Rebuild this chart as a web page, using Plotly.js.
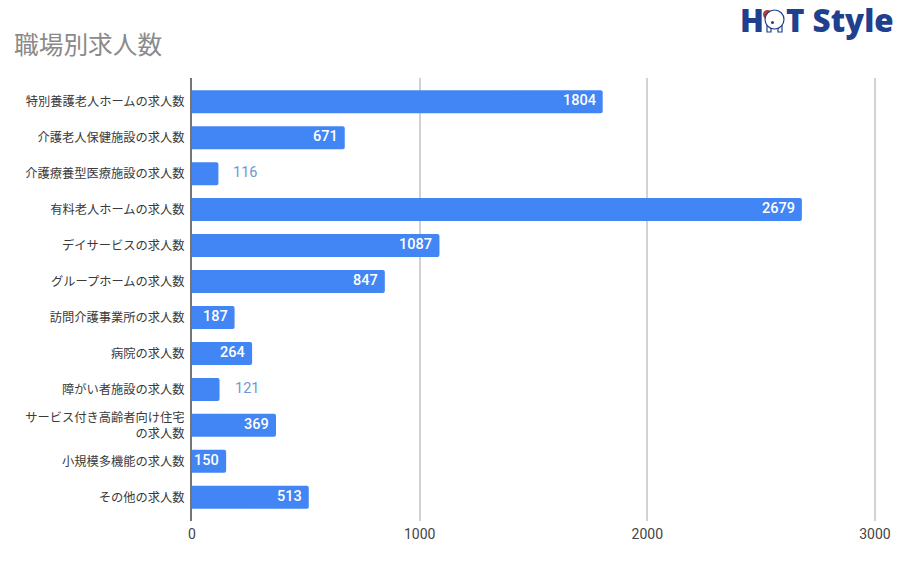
<!DOCTYPE html>
<html><head><meta charset="utf-8">
<script src="https://cdn.plot.ly/plotly-3.0.1.min.js"></script>
<style>html,body{margin:0;padding:0;background:#fff}#c{width:900px;height:570px}</style>
</head><body><div id="c"></div>
<script>
const categories = ["特別養護老人ホームの求人数","介護老人保健施設の求人数","介護療養型医療施設の求人数","有料老人ホームの求人数","デイサービスの求人数","グループホームの求人数","訪問介護事業所の求人数","病院の求人数","障がい者施設の求人数","サービス付き高齢者向け住宅<br>の求人数","小規模多機能の求人数","その他の求人数"];
const values = [1804,671,116,2679,1087,847,187,264,121,369,150,513];
const xTicks = [0,1000,2000,3000];
const title = "職場別求人数";
const cjk = '"Noto Sans CJK JP","Noto Sans",sans-serif';
const num = 'Roboto,Arial,sans-serif';
const labels = values.map((v,i)=>{
  const outside = v < 130;
  return {x:v,y:i,xref:'x',yref:'y',text:String(v),showarrow:false,
    xanchor:outside?'left':'right',yanchor:'middle',
    xshift:outside?13:-5,yshift:1,
    font:{family:num,size:14.5,weight:outside?400:500,color:outside?'#6f96d1':'#ffffff'}};
});
const pxX = x=>(x-192)/685, pxY = y=>(521-y)/443;
const navy = '#1f3f8f';
const logoFont = {family:'"Open Sans","Noto Sans",sans-serif',size:31.3,weight:800,color:navy};
const logo = [
  {xref:'paper',yref:'paper',x:pxX(738),y:pxY(20),text:'H',showarrow:false,xanchor:'left',yanchor:'middle',font:logoFont},
  {xref:'paper',yref:'paper',x:pxX(784),y:pxY(20),text:'T Style',showarrow:false,xanchor:'left',yanchor:'middle',font:logoFont}
];
const shapes = [
  {type:'circle',xref:'paper',yref:'paper',x0:pxX(763),x1:pxX(772),y0:pxY(19),y1:pxY(10),fillcolor:'#c0392b',line:{width:0},layer:'above'},
  {type:'rect',xref:'paper',yref:'paper',x0:pxX(767),x1:pxX(771),y0:pxY(32),y1:pxY(24),fillcolor:'#ffffff',line:{color:navy,width:1.2},layer:'above'},
  {type:'rect',xref:'paper',yref:'paper',x0:pxX(778),x1:pxX(782),y0:pxY(32),y1:pxY(24),fillcolor:'#ffffff',line:{color:navy,width:1.2},layer:'above'},
  {type:'circle',xref:'paper',yref:'paper',x0:pxX(765),x1:pxX(784),y0:pxY(29),y1:pxY(10),fillcolor:'#ffffff',line:{color:navy,width:1.2},layer:'above'},
  {type:'circle',xref:'paper',yref:'paper',x0:pxX(771),x1:pxX(774),y0:pxY(24),y1:pxY(21),fillcolor:navy,line:{width:0},layer:'above'}
];
Plotly.newPlot('c',[{
  type:'bar',orientation:'h',x:values,y:categories.map((_,i)=>i),
  marker:{color:'#4285f4',line:{width:0},cornerradius:2},hoverinfo:'skip'
}],{
  width:900,height:570,paper_bgcolor:'#fff',plot_bgcolor:'#fff',showlegend:false,
  margin:{l:192,r:23,t:78,b:49,pad:0},bargap:0.36,
  title:{text:title,x:14/900,xanchor:'left',y:1-45/570,yanchor:'middle',font:{family:cjk,size:24.7,color:'#8a8a8a'}},
  xaxis:{range:[0,3009],tickvals:xTicks,ticktext:xTicks.map(String),showgrid:true,gridcolor:'#d2d2d2',gridwidth:2,
    zeroline:false,showline:false,ticks:'',ticklen:0,ticklabelstandoff:3,tickfont:{family:num,size:14,color:'#444444'},fixedrange:true},
  yaxis:{range:[11.66,-0.66],tickvals:categories.map((_,i)=>i),ticktext:categories,showgrid:false,zeroline:false,
    showline:true,linecolor:'#757575',linewidth:2,ticks:'outside',ticklen:3,tickcolor:'rgba(0,0,0,0)',
    tickfont:{family:cjk,size:12.25,color:'#3a3a3a'},fixedrange:true},
  annotations:labels.concat(logo),shapes:shapes
},{displayModeBar:false,staticPlot:true});
</script></body></html>
